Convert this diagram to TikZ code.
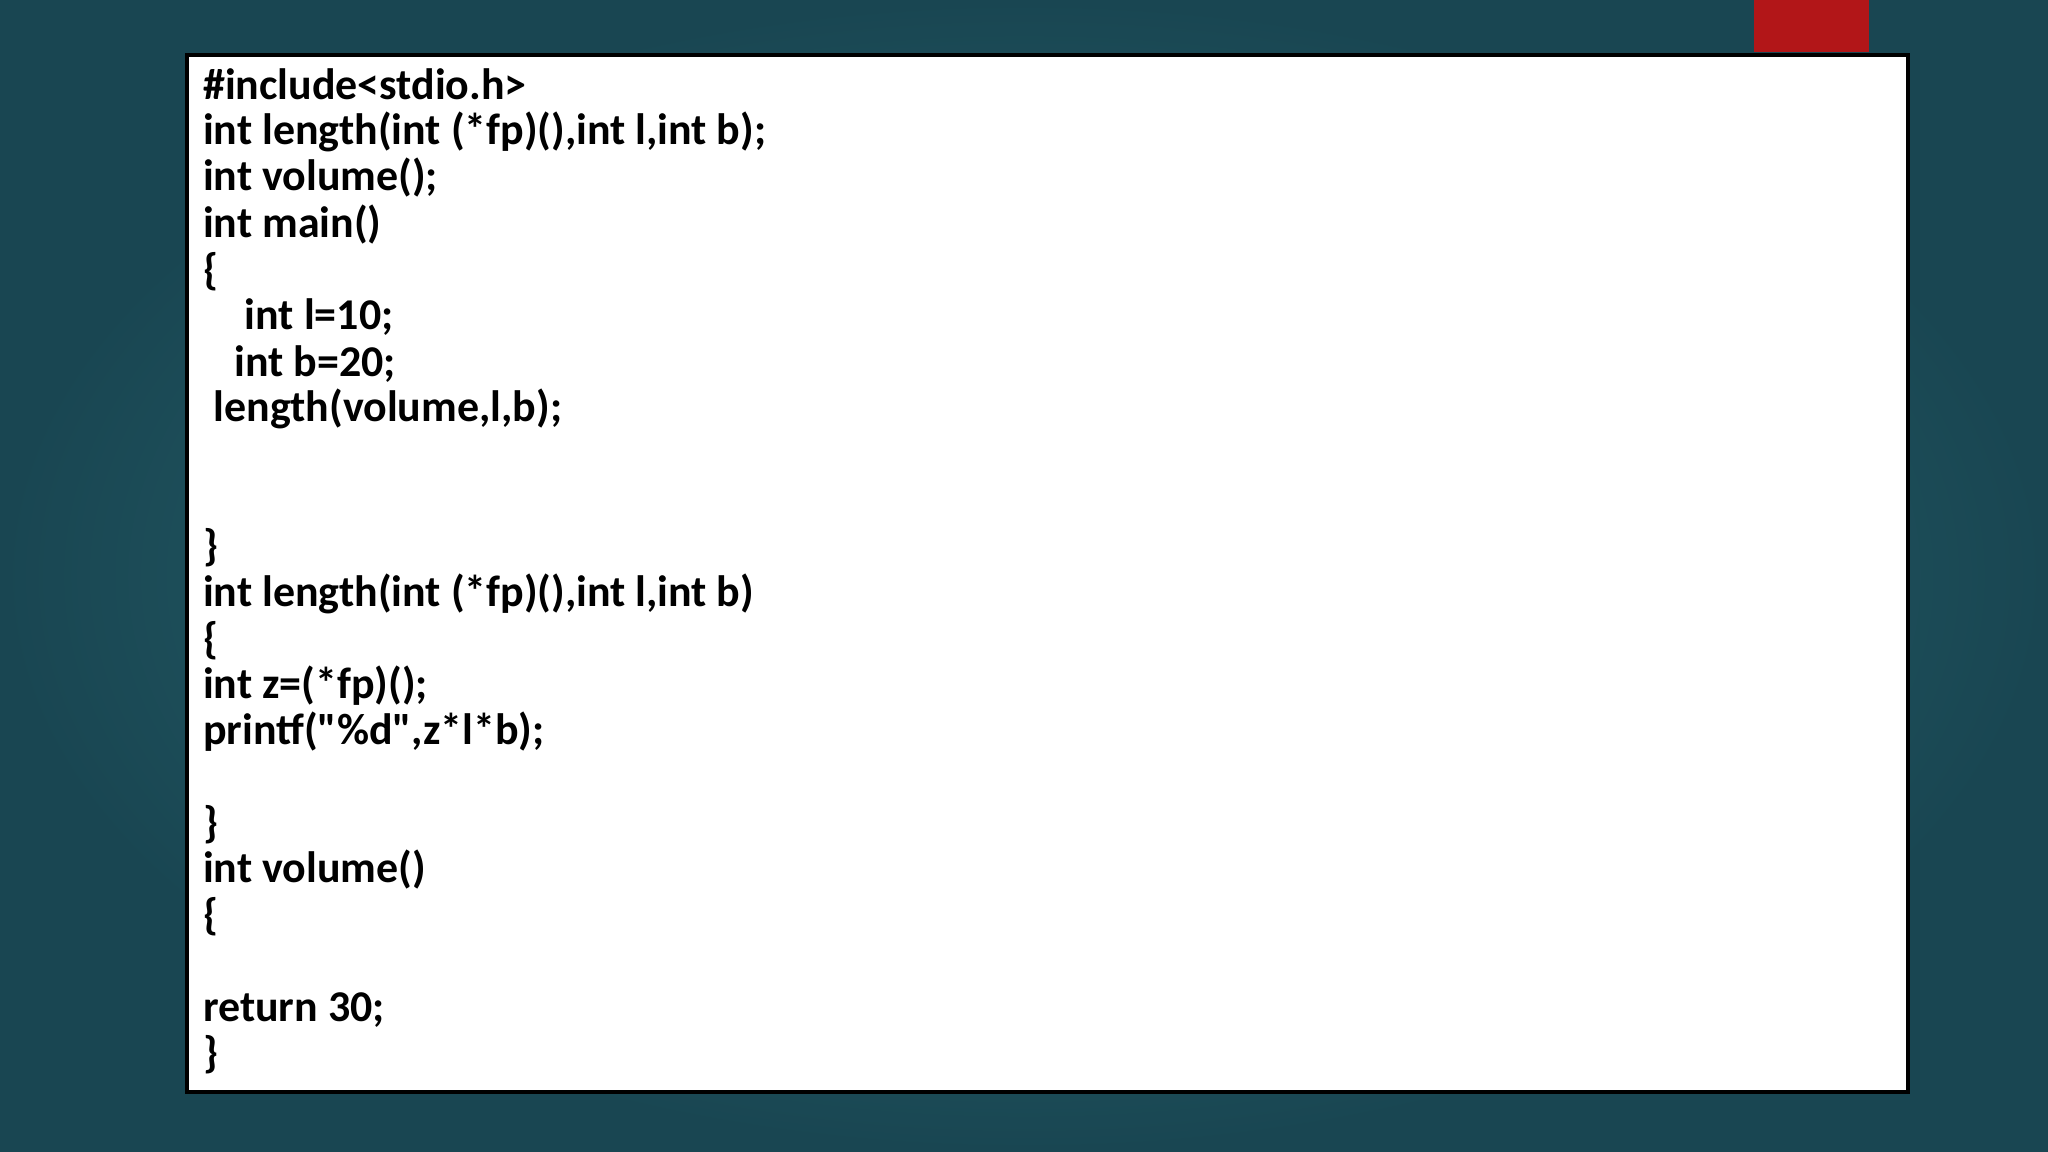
\documentclass[tikz,border=0pt]{standalone}
\usepackage{fontspec}
\setmainfont{Carlito}
\begin{document}
\begin{tikzpicture}[x=0.013061cm,y=-0.013061cm,
  code/.style={anchor=base west,inner sep=0pt,font=\fontsize{12.5}{14}\selectfont\bfseries}]
\useasboundingbox (0,0) rectangle (1568,882);
\shade[inner color={rgb,255:red,45;green,110;blue,118},outer color={rgb,255:red,25;green,70;blue,82}] (0,0) rectangle (1568,882);
\fill[fill={rgb,255:red,178;green,22;blue,24}] (1343,0) rectangle (1431,40);
\draw[fill=white,line width=1.2pt] (143,42) rectangle (1461,836);
\node[code] (l1) at (155,76) {\#include<stdio.h>};
\node[code] (l2) at (155,111) {int length(int (*fp)(),int l,int b);};
\node[code] (l3) at (155,146) {int volume();};
\node[code] (l4) at (155,182) {int main()};
\node[code] (l5) at (155,218) {\{};
\node[code] (l6) at (187,252) {int l=10;};
\node[code] (l7) at (179,288) {int b=20;};
\node[code] (l8) at (163,323) {length(volume,l,b);};
\node[code] (l9) at (155,429) {\}};
\node[code] (l10) at (155,464) {int length(int (*fp)(),int l,int b)};
\node[code] (l11) at (155,500) {\{};
\node[code] (l12) at (155,535) {int z=(*fp)();};
\node[code] (l13) at (155,570) {printf(\textquotedbl\%d\textquotedbl,z*l*b);};
\node[code] (l14) at (155,641) {\}};
\node[code] (l15) at (155,676) {int volume()};
\node[code] (l16) at (155,712) {\{};
\node[code] (l17) at (155,782) {return 30;};
\node[code] (l18) at (155,817) {\}};
\end{tikzpicture}
\end{document}
